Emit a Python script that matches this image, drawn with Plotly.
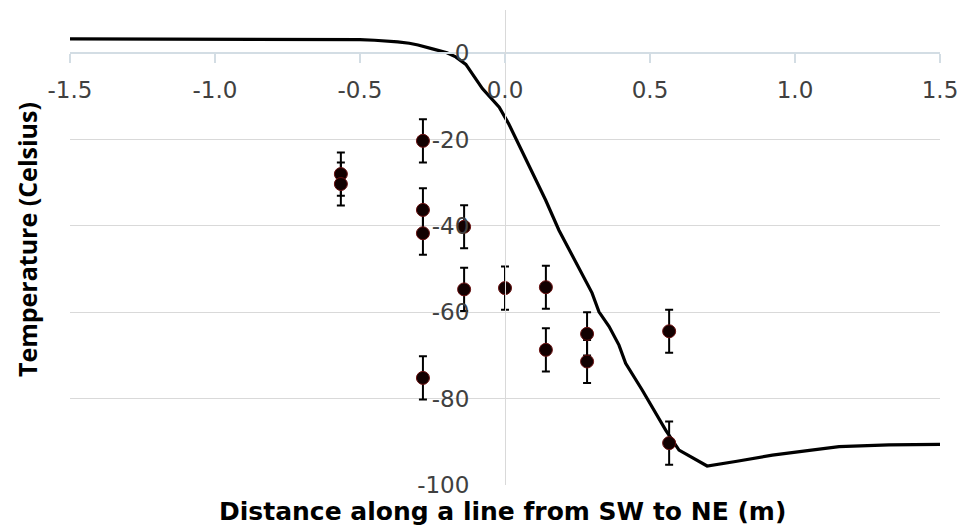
import plotly.graph_objects as go

# Measured points (distance in m, temperature in C), error +/-5
pt_x = [-0.566, -0.566, -0.283, -0.283, -0.283, -0.283, -0.141, -0.141, 0.0,
        0.141, 0.141, 0.283, 0.283, 0.566, 0.566]
pt_y = [-28.0, -30.3, -20.3, -36.3, -41.7, -75.2, -40.2, -54.7, -54.4,
        -54.2, -68.7, -65.0, -71.4, -64.4, -90.3]
pt_err = [5] * len(pt_x)

# Model curve
curve_x = [-1.5, -1.0, -0.6, -0.5, -0.45, -0.4, -0.37, -0.33, -0.3, -0.25, -0.2,
           -0.17, -0.135, -0.078, -0.02, 0.014, 0.072, 0.14, 0.186, 0.266, 0.3, 0.324,
           0.359, 0.393, 0.416, 0.473, 0.554, 0.6, 0.697, 0.8, 0.922, 1.05,
           1.152, 1.324, 1.5]
curve_y = [3.3, 3.3, 3.2, 3.15, 3.0, 2.85, 2.6, 2.3, 1.9, 1.0, 0.1,
           -0.85, -2.6, -8.2, -12.5, -16.5, -24.5, -34.0, -41.0, -51.0, -55.5, -59.9,
           -63.3, -67.6, -71.8, -78.0, -87.3, -91.9, -95.6, -94.5, -93.1, -92.0,
           -91.1, -90.7, -90.6]

x_ticks = [-1.5, -1.0, -0.5, 0.0, 0.5, 1.0, 1.5]
x_tick_text = ["-1.5", "-1.0", "-0.5", "0.0", "0.5", "1.0", "1.5"]
y_ticks = [0, -20, -40, -60, -80, -100]
y_tick_text = ["0", "-20", "-40", "-60", "-80", "-100"]

x_title = "Distance along a line from SW to NE (m)"
y_title = "Temperature (Celsius)"

fig = go.Figure()
fig.add_trace(go.Scatter(
    x=curve_x, y=curve_y, mode="lines",
    line=dict(color="black", width=3.2), showlegend=False, hoverinfo="skip"))
fig.add_trace(go.Scatter(
    x=pt_x, y=pt_y, mode="markers",
    marker=dict(size=13, color="#120000", line=dict(color="#6a1010", width=1)),
    error_y=dict(type="data", array=pt_err, visible=True, color="black",
                 thickness=2, width=4),
    showlegend=False))

tick_font = dict(family="DejaVu Sans", size=23, color="#404040")
xt_font = dict(family="DejaVu Sans", size=25, color="black")
yt_font = dict(family="Open Sans", size=25, color="black")

# page body has an 8px margin, so the figure is sized/offset to land in the window
fig.update_layout(
    width=957, height=519,
    margin=dict(l=62, r=25, t=2, b=42, autoexpand=False),
    paper_bgcolor="white", plot_bgcolor="white",
    xaxis=dict(range=[-1.5, 1.5], tickvals=x_ticks, ticktext=x_tick_text,
               showgrid=False, zeroline=False,
               showline=True, linecolor="#d3dde4", linewidth=1.5,
               ticks="outside", ticklen=9, tickcolor="#d3dde4", tickwidth=1.5,
               anchor="free", position=100/110, tickfont=tick_font,
               ticklabelstandoff=7),
    yaxis=dict(range=[-100, 10], tickvals=y_ticks, ticktext=y_tick_text,
               showgrid=True, gridcolor="#d9d9d9", gridwidth=1, zeroline=False,
               showline=True, linecolor="#d9d9d9", linewidth=1,
               ticks="", anchor="free", position=0.5, tickfont=tick_font,
               ticklabelstandoff=31),
    annotations=[
        dict(text="<b>" + x_title + "</b>", xref="paper", yref="paper",
             x=0.4977, y=-0.0568, xanchor="center", yanchor="middle",
             showarrow=False, font=xt_font),
        dict(text="<b>" + y_title + "</b>", xref="paper", yref="paper",
             x=-0.0494, y=0.5158, xanchor="center", yanchor="middle",
             textangle=-90, showarrow=False, font=yt_font),
    ],
)

fig.write_html("out.html")
